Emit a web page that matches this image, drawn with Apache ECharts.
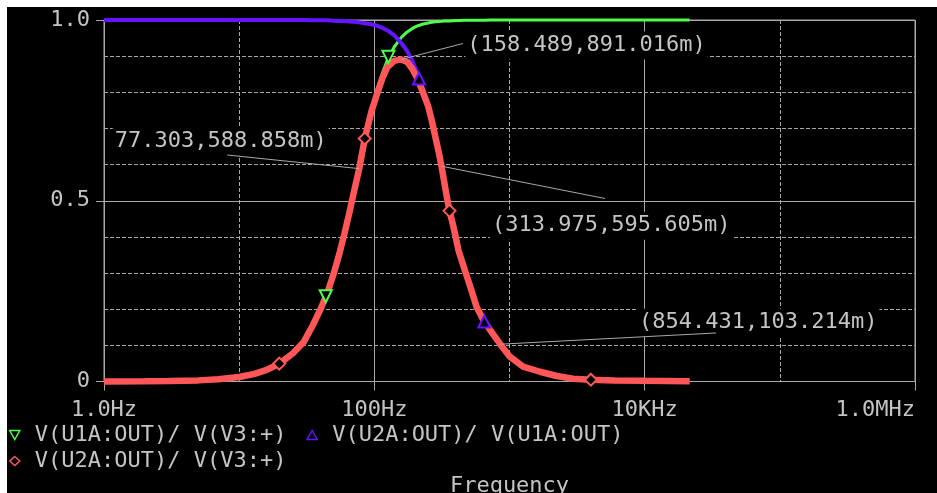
<!DOCTYPE html>
<html>
<head>
<meta charset="utf-8">
<script src="https://cdn.jsdelivr.net/npm/echarts@6/dist/echarts.min.js"></script>
<style>
html,body{margin:0;padding:0;background:#000;}
#chart{width:937px;height:493px;}
</style>
</head>
<body>
<div id="chart"></div>
<script>
// ---- data ----
const frequencies = [1, 2, 3, 5, 7, 10, 13, 16, 20, 25, 30, 35, 40, 45, 50, 55, 60, 65, 70, 77.303,
  85, 95, 105, 115, 125, 140, 158.489, 175, 190, 206, 230, 250, 266, 285, 300, 313.975, 330, 345, 360, 385,
  420, 470, 520, 570, 650, 720, 854.431, 1000, 1260, 1680, 2240, 2950, 4000, 6000, 10000, 21500];

// V(U1A:OUT)/ V(V3:+)
const hpValues = [0.0001, 0.0005, 0.0011, 0.0031, 0.0061, 0.0124, 0.021, 0.0318, 0.0497, 0.0773, 0.111, 0.1505, 0.1949, 0.2441, 0.2962, 0.3519, 0.4084, 0.4648, 0.5201, 0.5925,
  0.668, 0.749, 0.808, 0.854, 0.889, 0.925, 0.952, 0.967, 0.976, 0.983, 0.989, 0.9918, 0.9937, 0.995, 0.9957, 0.9962, 0.997, 0.9973, 0.9975, 0.998,
  0.9986, 0.999, 0.9993, 0.9995, 0.9996, 0.9997, 0.9998, 0.9999, 1, 1, 1, 1, 1, 1, 1, 1];

// V(U2A:OUT)/ V(U1A:OUT)
const lpValues = [1, 1, 1, 1, 1, 1, 1, 1, 0.9999, 0.9998, 0.9997, 0.9995, 0.9993, 0.999, 0.998, 0.9975, 0.997, 0.996, 0.995, 0.9935,
  0.991, 0.988, 0.984, 0.978, 0.971, 0.958, 0.936, 0.914, 0.889, 0.857, 0.807, 0.768, 0.727, 0.673, 0.636, 0.598, 0.551, 0.508, 0.473, 0.429,
  0.3625, 0.3053, 0.2552, 0.2071, 0.1661, 0.142, 0.1032, 0.0695, 0.041, 0.027, 0.0152, 0.0075, 0.005, 0.003, 0.0018, 0.0009];

// V(U2A:OUT)/ V(V3:+)
const bpValues = [0.0001, 0.0005, 0.0011, 0.0031, 0.0061, 0.0124, 0.021, 0.032, 0.05, 0.078, 0.109, 0.155, 0.2, 0.246, 0.298, 0.352, 0.408, 0.463, 0.518, 0.5889,
  0.672, 0.746, 0.797, 0.84, 0.87, 0.887, 0.891, 0.884, 0.866, 0.842, 0.798, 0.762, 0.722, 0.671, 0.633, 0.5956, 0.549, 0.507, 0.472, 0.428,
  0.362, 0.305, 0.255, 0.207, 0.166, 0.142, 0.1032, 0.0695, 0.041, 0.027, 0.0152, 0.0075, 0.005, 0.003, 0.0018, 0.0009];

const seriesNames = ['V(U1A:OUT)/ V(V3:+)', 'V(U2A:OUT)/ V(U1A:OUT)', 'V(U2A:OUT)/ V(V3:+)'];

const hpMarkers = [[43.7, 0.236], [127, 0.898]];
const lpMarkers = [[214, 0.838], [651, 0.166]];
const bpMarkers = [[19.8, 0.0495], [85, 0.672], [360, 0.472], [4000, 0.005]];

const xTickLabels = ['1.0Hz', '100Hz', '10KHz', '1.0MHz'];
const yTickLabels = ['0', '0.5', '1.0'];

const cursorFreqs = [158.489, 77.303, 313.975, 854.431];
const cursorValues = [0.891016, 0.588858, 0.595605, 0.103214];
const cursorTexts = ['(158.489,891.016m)', '77.303,588.858m)', '(313.975,595.605m)', '(854.431,103.214m)'];

// ---- layout / style ----
const cursorLayout = [
  {lx: 61.6, ly: -15.9, tx: 64, ty: -14},
  {lx: -132, ly: -13.6, tx: -246.5, ty: -27},
  {lx: 163.5, ly: 32.3, tx: 48.5, ty: 59.5},
  {lx: 215.7, ly: -11.2, tx: 136.7, ty: -21.5}
];
const FONT = 'DejaVu Sans Mono';
const GRAY = '#a8a8a8';
const TXT = '#c4c4c4';
const GREEN = '#4dff4d';
const BLUE = '#6414ff';
const RED = '#ff5757';

function pairs(vals) { return frequencies.map((f, i) => [f, vals[i]]); }
function marks(list, symbol, rotate, color) {
  return {
    symbol: symbol, symbolSize: 12, symbolRotate: rotate, silent: true,
    label: {show: false},
    itemStyle: {color: '#000', borderColor: color, borderWidth: 2},
    data: list.map(p => ({coord: p}))
  };
}
const legendText = {color: TXT, fontFamily: FONT, fontSize: 22, padding: [0, 0, 0, 10]};

const chart = echarts.init(document.getElementById('chart'));
const option = {
  backgroundColor: '#000',
  animation: false,
  grid: {left: 104, top: 20, width: 811, height: 361.5, show: true, borderColor: GRAY, borderWidth: 1,
    backgroundColor: 'transparent', containLabel: false, outerBoundsMode: 'none'},
  xAxis: [
    {type: 'log', logBase: 10, min: 1, max: 1e6,
     axisLine: {show: false}, axisTick: {show: false}, axisLabel: {show: false},
     splitLine: {show: true, lineStyle: {color: GRAY, width: 1, type: [4, 2]}}},
    {type: 'value', position: 'bottom', min: 0, max: 6, interval: 2,
     axisLine: {show: false, onZero: false},
     axisTick: {show: true, length: 9, lineStyle: {color: GRAY}},
     axisLabel: {margin: 18, color: TXT, fontFamily: FONT, fontSize: 22,
       formatter: v => xTickLabels[Math.round(v / 2)], alignMaxLabel: 'right'},
     splitLine: {show: true, lineStyle: {color: GRAY, width: 1}},
     name: 'Frequency', nameLocation: 'middle', nameGap: 105,
     nameTextStyle: {color: TXT, fontFamily: FONT, fontSize: 22, verticalAlign: 'middle'}}
  ],
  yAxis: [
    {type: 'value', min: 0, max: 1, interval: 0.1,
     axisLine: {show: false, onZero: false}, axisTick: {show: false}, axisLabel: {show: false},
     splitLine: {show: true, lineStyle: {color: GRAY, width: 1, type: [4, 2]}}},
    {type: 'value', position: 'left', min: 0, max: 1, interval: 0.5,
     axisLine: {show: false, onZero: false},
     axisTick: {show: true, length: 8, lineStyle: {color: GRAY}},
     axisLabel: {margin: 14, color: TXT, fontFamily: FONT, fontSize: 22,
       formatter: v => yTickLabels[Math.round(v * 2)]},
     splitLine: {show: true, lineStyle: {color: GRAY, width: 1}}}
  ],
  legend: [
    {left: 9, top: 424, padding: 0, itemWidth: 10, itemHeight: 9, itemGap: 20, selectedMode: false,
     textStyle: legendText,
     data: [
       {name: seriesNames[0], icon: 'path://M0,0L10,0L5,9Z', itemStyle: {color: '#000', borderColor: GREEN, borderWidth: 1.5}},
       {name: seriesNames[1], icon: 'triangle', itemStyle: {color: '#000', borderColor: BLUE, borderWidth: 1.5}}
     ]},
    {left: 9, top: 450, padding: 0, itemWidth: 10, itemHeight: 9, selectedMode: false,
     textStyle: legendText,
     data: [
       {name: seriesNames[2], icon: 'diamond', itemStyle: {color: '#000', borderColor: RED, borderWidth: 1.5}}
     ]}
  ],
  series: [
    {name: seriesNames[0], type: 'line', xAxisIndex: 0, yAxisIndex: 0, data: pairs(hpValues),
     symbol: 'none', showSymbol: false, clip: false, lineStyle: {color: GREEN, width: 3}, itemStyle: {color: GREEN},
     markPoint: marks(hpMarkers, 'triangle', 180, GREEN)},
    {name: seriesNames[1], type: 'line', xAxisIndex: 0, yAxisIndex: 0, data: pairs(lpValues),
     symbol: 'none', showSymbol: false, clip: false, lineStyle: {color: BLUE, width: 4}, itemStyle: {color: BLUE},
     markPoint: marks(lpMarkers, 'triangle', 0, BLUE)},
    {name: seriesNames[2], type: 'line', xAxisIndex: 0, yAxisIndex: 0, data: pairs(bpValues),
     symbol: 'none', showSymbol: false, clip: false, lineStyle: {color: RED, width: 6.5}, itemStyle: {color: RED},
     markPoint: marks(bpMarkers, 'diamond', 0, RED)}
  ]
};
chart.setOption(option);

const g = [
  {type: 'rect', z: 100, shape: {x: 0, y: 0, width: 937, height: 7}, style: {fill: '#fff'}},
  {type: 'rect', z: 100, shape: {x: 0, y: 0, width: 7, height: 493}, style: {fill: '#fff'}}
];
cursorFreqs.forEach((f, i) => {
  const p = chart.convertToPixel({seriesIndex: 2}, [f, cursorValues[i]]);
  const L = cursorLayout[i];
  g.push({type: 'text', z: 50, silent: true,
    style: {text: cursorTexts[i], x: p[0] + L.tx, y: p[1] + L.ty, fill: TXT,
      font: '22px "DejaVu Sans Mono"', align: 'left', verticalAlign: 'middle',
      backgroundColor: '#000', padding: [3, 2, 3, 2]}});
  g.push({type: 'line', z: 60, silent: true,
    shape: {x1: p[0], y1: p[1], x2: p[0] + L.lx, y2: p[1] + L.ly},
    style: {stroke: GRAY, lineWidth: 1}});
});
chart.setOption({graphic: g});
</script>
</body>
</html>
